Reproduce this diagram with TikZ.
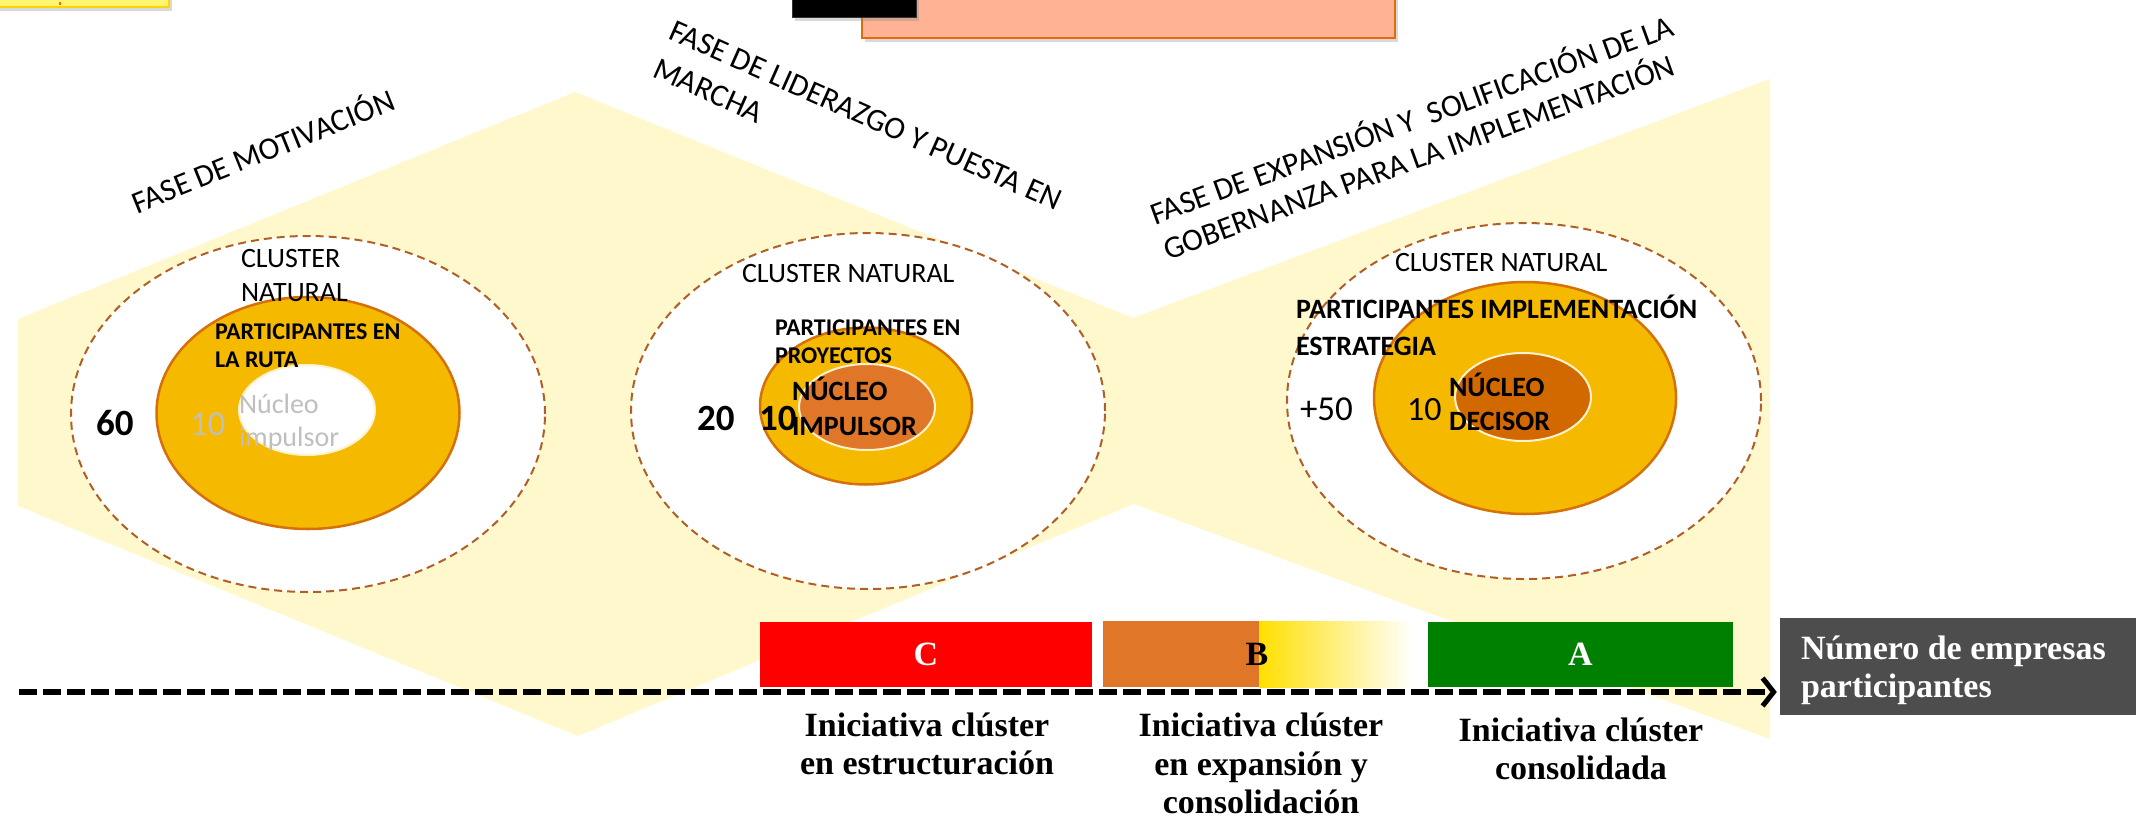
\documentclass[tikz,border=0pt]{standalone}
\usepackage{fontspec}
\setmainfont{Carlito}
\newfontfamily\cambria{Liberation Serif}
\usetikzlibrary{shapes.geometric,arrows.meta,shadows}

\definecolor{bgy}{RGB}{255,248,204}
\definecolor{dashbrown}{RGB}{176,96,38}
\definecolor{ringfill}{RGB}{245,185,0}
\definecolor{ringdraw}{RGB}{214,112,10}
\definecolor{coremid}{RGB}{224,118,40}
\definecolor{coreright}{RGB}{210,105,0}
\definecolor{corerim}{RGB}{255,242,204}
\definecolor{lgray}{RGB}{191,191,191}
\definecolor{boxB}{RGB}{224,118,40}
\definecolor{boxByel}{RGB}{255,224,0}
\definecolor{boxA}{RGB}{0,128,0}
\definecolor{numgray}{RGB}{77,77,77}
\definecolor{salmon}{RGB}{255,179,148}
\definecolor{salmonedge}{RGB}{227,108,10}
\definecolor{topyel}{RGB}{255,245,112}
\definecolor{topyeledge}{RGB}{255,212,0}

\begin{document}
\begin{tikzpicture}[x=1pt,y=-1pt,
  outerE/.style={ellipse, draw=dashbrown, line width=2pt, dash pattern=on 8pt off 5pt, fill=white, inner sep=0pt, minimum width=474pt, minimum height=356pt},
  ringE/.style={ellipse, draw=ringdraw, line width=2.5pt, fill=ringfill, inner sep=0pt},
  coreE/.style={ellipse, line width=2pt, inner sep=0pt, minimum width=136pt},
  tl/.style={anchor=base west, inner sep=0pt, outer sep=0pt},
  clus/.style={tl, font=\fontsize{28}{34}\selectfont},
  partS/.style={tl, font=\bfseries\fontsize{24}{28}\selectfont},
  partL/.style={tl, font=\bfseries\fontsize{28}{34}\selectfont},
  nuc/.style={tl, font=\bfseries\fontsize{28}{34}\selectfont},
  bignum/.style={tl, font=\bfseries\fontsize{37}{40}\selectfont},
  regnum/.style={tl, font=\fontsize{35}{40}\selectfont},
  phase/.style={tl, font=\fontsize{31.5}{36}\selectfont},
  grade/.style={font=\cambria\bfseries\fontsize{34}{38}\selectfont, inner sep=0pt, minimum height=65pt},
  caption/.style={anchor=base, inner sep=0pt, font=\cambria\bfseries\fontsize{34}{38}\selectfont},
  numtxt/.style={tl, text=white, font=\cambria\bfseries\fontsize{34}{38}\selectfont},
  topshadow/.style={drop shadow={shadow xshift=3pt, shadow yshift=-4pt, opacity=0.3}}
]
\useasboundingbox (0,0) rectangle (2136,819);
\clip (0,0) rectangle (2136,819);

% background phase shapes (one merged outline)
\fill[bgy] (18,319) -- (575,92) -- (1133,318) -- (1770,79) -- (1770,739) -- (1134,504) -- (578,736) -- (18,506) -- cycle;

% top partial boxes
\draw[topshadow, fill=topyel, draw=topyeledge, line width=2pt] (-20,-40) rectangle (169,7);
\draw[dashed, draw=orange!80!red, line width=1.5pt] (60,-10) -- (60,7);
\draw[topshadow, fill=salmon, draw=salmonedge, line width=1.5pt] (862,-40) rectangle (1395,38);
\draw[topshadow, fill=black, draw=black!80] (792,-40) rectangle (916,17);

% circles
\node[outerE] (o1) at (308,414) {};
\node[outerE] (o2) at (868,411) {};
\node[outerE] (o3) at (1524,401) {};

\node[ringE, minimum width=303pt, minimum height=232pt] (r1) at (308,413) {};
\node[ringE, minimum width=212pt, minimum height=157pt] (r2) at (866,406) {};
\node[ringE, minimum width=302pt, minimum height=232pt] (r3) at (1525,398) {};

\node[coreE, fill=white, draw=corerim, minimum height=90pt] (k1) at (307,410) {};
\node[coreE, fill=coremid, draw=corerim, minimum height=86pt] (k2) at (867,407) {};
\node[coreE, fill=coreright, draw=corerim, minimum height=88pt] (k3) at (1523,397) {};

% phase titles
\node[phase, rotate=22] (f1) at (137,214) {FASE DE MOTIVACIÓN};
\node[phase, rotate=-24] (f2a) at (667,38) {FASE DE LIDERAZGO Y PUESTA EN};
\node[phase, rotate=-24] (f2b) at (651,76) {MARCHA};
\node[phase, rotate=20] (f3a) at (1155,225) {FASE DE EXPANSIÓN Y\ \ SOLIFICACIÓN DE LA};
\node[phase, rotate=20] (f3b) at (1168,260) {GOBERNANZA PARA LA IMPLEMENTACIÓN};

% left cluster texts
\node[clus] (c1a) at (241,267) {CLUSTER};
\node[clus] (c1b) at (241,301) {NATURAL};
\node[partS] (p1a) at (215,339) {PARTICIPANTES EN};
\node[partS] (p1b) at (215,367) {LA RUTA};
\node[bignum] (n1a) at (96,435) {60};
\node[regnum, text=lgray] (n1b) at (190,435) {10};
\node[clus, text=lgray] (u1a) at (239,413) {Núcleo};
\node[clus, text=lgray] (u1b) at (239,446) {impulsor};

% middle cluster texts
\node[clus] (c2) at (742,282) {CLUSTER NATURAL};
\node[partS] (p2a) at (775,335) {PARTICIPANTES EN};
\node[partS] (p2b) at (775,363) {PROYECTOS};
\node[bignum] (n2a) at (697,430) {20};
\node[bignum] (n2b) at (759,430) {10};
\node[nuc] (u2a) at (792,400) {NÚCLEO};
\node[nuc] (u2b) at (792,435) {IMPULSOR};

% right cluster texts
\node[clus] (c3) at (1395,271) {CLUSTER NATURAL};
\node[partL] (p3a) at (1296,318) {PARTICIPANTES IMPLEMENTACIÓN};
\node[partL] (p3b) at (1296,355) {ESTRATEGIA};
\node[regnum] (n3a) at (1300,420) {+50};
\node[regnum, font=\fontsize{34}{40}\selectfont] (n3b) at (1407,420) {10};
\node[nuc] (u3a) at (1449,396) {NÚCLEO};
\node[nuc] (u3b) at (1449,430) {DECISOR};

% grade bars
\node[grade, fill=red, text=white, minimum width=332pt] (gC) at (926,654.5) {C};
\fill[boxB] (1103,621) rectangle (1259,687);
\shade[left color=boxByel, right color=white] (1259,621) rectangle (1413,687);
\node[grade, text=black] (gB) at (1257,654) {B};
\node[grade, fill=boxA, text=white, minimum width=305pt] (gA) at (1580.5,654.5) {A};

% number box
\node[fill=numgray, minimum width=360pt, minimum height=97pt, inner sep=0pt] (gnum) at (1960,666.5) {};
\node[numtxt] (gnum1) at (1801,659) {Número de empresas};
\node[numtxt] (gnum2) at (1801,697) {participantes};

% axis arrow
\coordinate (axstart) at (19,692);
\draw[line width=6pt, dash pattern=on 18pt off 6pt, -{Straight Barb[length=11pt,width=28pt,line width=5pt]}, shorten >=3pt] (axstart) -- (axstart -| gnum.west);

% captions
\node[caption] (capC1) at (927,736) {Iniciativa clúster};
\node[caption] (capC2) at (927,774) {en estructuración};
\node[caption] (capB1) at (1261,736) {Iniciativa clúster};
\node[caption] (capB2) at (1261,775) {en expansión y};
\node[caption] (capB3) at (1261,813) {consolidación};
\node[caption] (capA1) at (1581,741) {Iniciativa clúster};
\node[caption] (capA2) at (1581,779) {consolidada};
\end{tikzpicture}
\end{document}
